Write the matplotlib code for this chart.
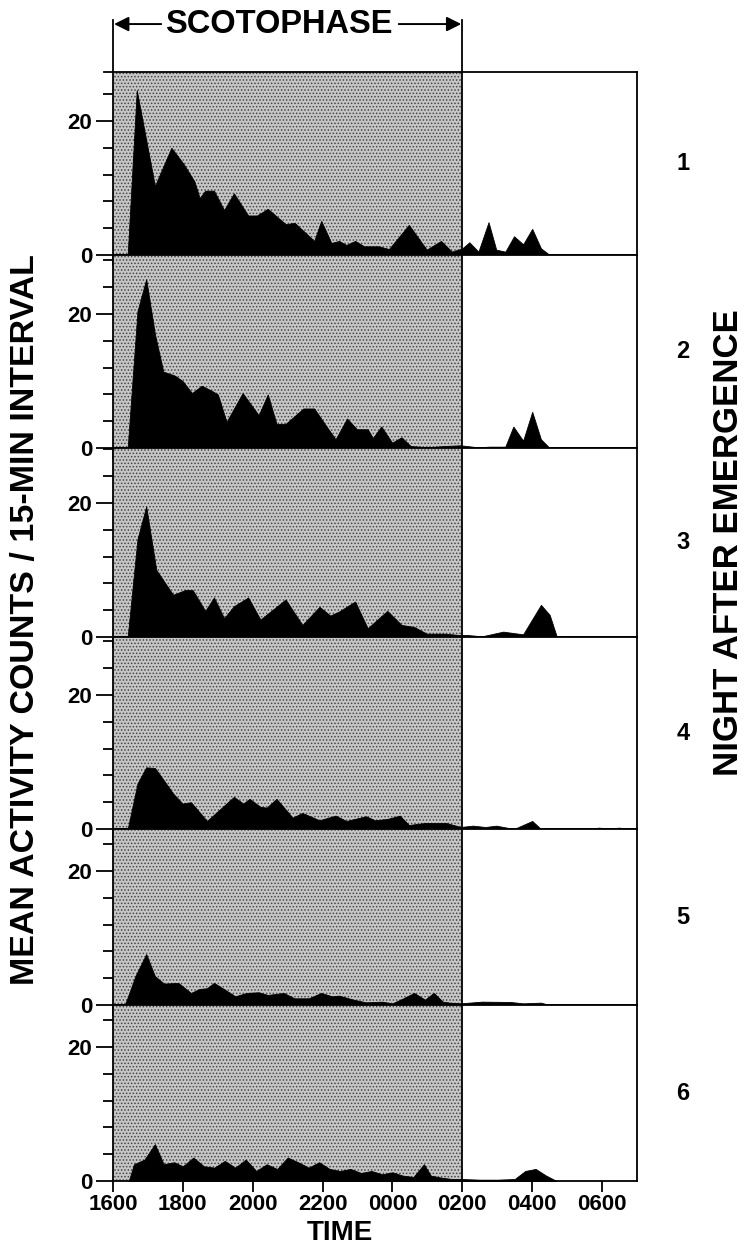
import matplotlib
matplotlib.use('Agg')
import matplotlib.pyplot as plt
from matplotlib.transforms import blended_transform_factory

plt.rcParams['font.family'] = ['Liberation Sans', 'DejaVu Sans']
plt.rcParams['font.weight'] = 'bold'
plt.rcParams['hatch.linewidth'] = 0.7

# ---------------- data (time in hours after 1600, mean counts / 15 min) -------------
time_ticks = [0, 2, 4, 6, 8, 10, 12, 14]
time_labels = ['1600', '1800', '2000', '2200', '0000', '0200', '0400', '0600']
night_labels = ['1', '2', '3', '4', '5', '6']
scotophase_start = 0
scotophase_end = 10
x_max = 15

h1 = [0.42, 0.68, 1.2, 1.67, 2.02, 2.33, 2.48, 2.64, 2.89, 3.18, 3.46, 3.87, 4.12, 4.43,
      4.94, 5.2, 5.76, 5.96, 6.25, 6.47, 6.68, 6.93, 7.19, 7.6, 7.9, 8.47, 8.98, 9.39,
      9.7, 10.0, 10.2, 10.46, 10.75, 10.97, 11.23, 11.48, 11.74, 12.0, 12.25, 12.5]
c1 = [0, 24.6, 10.3, 16.0, 13.6, 11.0, 8.5, 9.6, 9.6, 6.7, 9.2, 5.9, 5.9, 6.9,
      4.6, 4.8, 2.1, 5.1, 1.8, 2.1, 1.5, 2.1, 1.3, 1.3, 0.9, 4.5, 0.8, 2.1,
      0.5, 1.0, 1.9, 0.5, 4.9, 0.8, 0.5, 2.8, 1.6, 3.9, 1.0, 0]

h2 = [0.42, 0.7, 0.95, 1.2, 1.44, 1.77, 1.99, 2.26, 2.54, 2.84, 3.0, 3.25, 3.71, 4.17,
      4.43, 4.68, 4.94, 5.45, 5.76, 6.06, 6.37, 6.7, 6.98, 7.29, 7.44, 7.68, 7.99, 8.26,
      8.52, 9.0, 9.5, 9.95, 10.46, 10.77, 11.23, 11.46, 11.74, 12.0, 12.25, 12.5]
c2 = [0, 20.4, 25.2, 17.0, 11.4, 10.8, 10.0, 8.2, 9.3, 8.5, 8.0, 3.9, 8.2, 4.9,
      8.0, 3.6, 3.6, 5.9, 5.9, 3.6, 1.3, 4.4, 2.8, 2.8, 1.5, 3.2, 0.8, 1.6,
      0.3, 0.1, 0.3, 0.4, 0.1, 0.2, 0.2, 3.2, 1.1, 5.4, 1.3, 0]

h3 = [0.42, 0.7, 0.95, 1.24, 1.72, 2.06, 2.28, 2.64, 2.89, 3.18, 3.46, 3.87, 4.22, 4.94,
      5.42, 5.91, 6.22, 6.47, 6.93, 7.29, 7.85, 8.26, 8.62, 8.98, 9.5, 9.9, 10.15, 10.56,
      11.17, 11.74, 12.25, 12.5, 12.7, 13.2]
c3 = [0, 14.6, 19.5, 10.0, 6.3, 7.0, 7.0, 3.9, 5.9, 2.8, 4.6, 5.9, 2.6, 5.6,
      1.8, 4.5, 3.2, 3.8, 5.3, 1.3, 3.9, 1.8, 1.5, 0.5, 0.5, 0.3, 0.3, 0.1,
      0.8, 0.4, 4.8, 3.3, 0.1, 0]

h4 = [0.42, 0.7, 0.95, 1.2, 1.41, 1.72, 1.99, 2.23, 2.69, 3.46, 3.73, 3.91, 4.22, 4.4,
      4.68, 5.14, 5.42, 5.91, 6.37, 6.68, 7.24, 7.5, 7.85, 8.21, 8.47, 8.93, 9.54, 9.95,
      10.3, 10.66, 10.97, 11.48, 12.0, 12.25, 13.6, 13.9, 14.2, 14.5, 14.75]
c4 = [0, 6.8, 9.2, 9.1, 7.6, 5.3, 3.8, 4.0, 1.2, 4.8, 3.8, 4.5, 3.3, 3.2,
      4.5, 1.7, 2.4, 1.3, 2.0, 1.2, 1.9, 1.3, 1.5, 2.0, 0.6, 0.9, 0.9, 0.3,
      0.5, 0.3, 0.5, 0.0, 1.2, 0.0, 0.0, 0.2, 0.1, 0.2, 0]

h5 = [0.34, 0.64, 0.95, 1.2, 1.46, 1.87, 2.23, 2.48, 2.69, 2.89, 3.2, 3.5, 3.82, 4.17,
      4.43, 4.89, 5.19, 5.6, 5.96, 6.27, 6.47, 6.88, 7.24, 7.7, 8.0, 8.31, 8.62, 8.93,
      9.18, 9.44, 9.64, 9.95, 10.56, 11.38, 11.74, 12.25, 12.5]
c5 = [0, 4.3, 7.6, 4.3, 3.2, 3.3, 1.8, 2.4, 2.5, 3.3, 2.3, 1.3, 1.8, 1.9,
      1.5, 1.8, 1.0, 1.0, 1.8, 1.3, 1.4, 0.8, 0.4, 0.5, 0.25, 1.0, 1.8, 0.8,
      1.8, 0.5, 0.35, 0.25, 0.5, 0.45, 0.25, 0.35, 0]

h6 = [0.45, 0.6, 0.9, 1.2, 1.45, 1.75, 2.0, 2.3, 2.6, 2.9, 3.2, 3.5, 3.8, 4.1, 4.4,
      4.7, 5.0, 5.3, 5.6, 5.9, 6.2, 6.5, 6.8, 7.1, 7.4, 7.7, 8.0, 8.3, 8.6, 8.9, 9.1,
      9.4, 9.7, 10.0, 10.5, 11.0, 11.5, 11.8, 12.1, 12.4, 12.7]
c6 = [0, 2.5, 3.2, 5.5, 2.5, 2.8, 2.2, 3.5, 2.2, 2.0, 3.0, 2.0, 3.2, 1.5, 2.5,
      1.8, 3.5, 2.8, 2.0, 2.8, 1.8, 1.5, 1.8, 1.2, 1.5, 1.0, 1.3, 0.8, 0.6, 2.5, 0.8,
      0.5, 0.3, 0.3, 0.2, 0.2, 0.3, 1.5, 1.8, 0.8, 0]

series_h = [h1, h2, h3, h4, h5, h6]
series_c = [c1, c2, c3, c4, c5, c6]

# ---------------- layout ----------------
W, H = 754, 1245
fig = plt.figure(figsize=(W / 100, H / 100), dpi=100)
left_px, right_px = 113, 637
tops = [72, 255, 448, 637, 829, 1005]
bots = [255, 448, 637, 829, 1005, 1181]
px_per_unit = 6.7

axes = []
for i in range(6):
    t, b = tops[i], bots[i]
    ax = fig.add_axes([left_px / W, 1 - b / H, (right_px - left_px) / W, (b - t) / H])
    ymax = (b - t) / px_per_unit
    ax.set_xlim(0, x_max)
    ax.set_ylim(0, ymax)
    ax.axvspan(scotophase_start, scotophase_end, facecolor='#c6c6c6', edgecolor='#444444',
               hatch='.....', lw=0, zorder=0)
    ax.fill_between(series_h[i], series_c[i], 0, facecolor='black', edgecolor='black',
                    lw=0.6, zorder=2)
    ax.axvline(scotophase_end, color='black', lw=1.3, zorder=3)
    ax.set_xticks(time_ticks)
    ax.set_yticks([0, 20])
    ax.set_yticks([v for v in [4, 8, 12, 16, 24, 28] if v < ymax], minor=True)
    ax.tick_params(axis='y', which='major', direction='out', length=12, width=1.3,
                   labelsize=16, pad=3)
    ax.tick_params(axis='y', which='minor', direction='out', length=7, width=1.3)
    ax.tick_params(axis='x', which='major', direction='out', length=8, width=1.3,
                   labelsize=16, pad=1, labelbottom=(i == 5))
    if i == 5:
        ax.set_xticklabels(time_labels)
    for lab in ax.get_yticklabels() + ax.get_xticklabels():
        lab.set_fontweight('bold')
    for s in ax.spines.values():
        s.set_linewidth(1.3)
    ax.text(1.088, 0.5, night_labels[i], transform=ax.transAxes, ha='center', va='center',
            fontsize=17, fontweight='bold')
    axes.append(ax)

# scotophase bracket
ax1 = axes[0]
tr = blended_transform_factory(ax1.transData, ax1.transAxes)
for xv in (scotophase_start, scotophase_end):
    ax1.plot([xv, xv], [1.0, 1.285], transform=tr, clip_on=False, color='black', lw=1.3)
ax1.plot([-0.25, 0], [1, 1], transform=tr, clip_on=False, color='black', lw=1.3)
ya = 1.262
ax1.annotate('', xy=(scotophase_start + 0.03, ya), xytext=(1.38, ya), xycoords=tr, textcoords=tr,
             arrowprops=dict(arrowstyle='-|>', lw=1.4, color='black', mutation_scale=22,
                             shrinkA=0, shrinkB=0))
ax1.annotate('', xy=(scotophase_end - 0.03, ya), xytext=(8.18, ya), xycoords=tr, textcoords=tr,
             arrowprops=dict(arrowstyle='-|>', lw=1.4, color='black', mutation_scale=22,
                             shrinkA=0, shrinkB=0))
ax1.text(4.76, ya, 'SCOTOPHASE', transform=tr, ha='center', va='center', fontsize=23.5,
         fontweight='bold')

fig.text(26 / W, 1 - 620 / H, 'MEAN ACTIVITY COUNTS / 15-MIN INTERVAL', rotation=90,
         ha='center', va='center', fontsize=24.5, fontweight='bold')
fig.text(728 / W, 1 - 543 / H, 'NIGHT AFTER EMERGENCE', rotation=90,
         ha='center', va='center', fontsize=25, fontweight='bold')
fig.text(340 / W, 1 - 1240 / H, 'TIME', ha='center', va='baseline', fontsize=20,
         fontweight='bold')

fig.savefig('out.png', dpi=100)
